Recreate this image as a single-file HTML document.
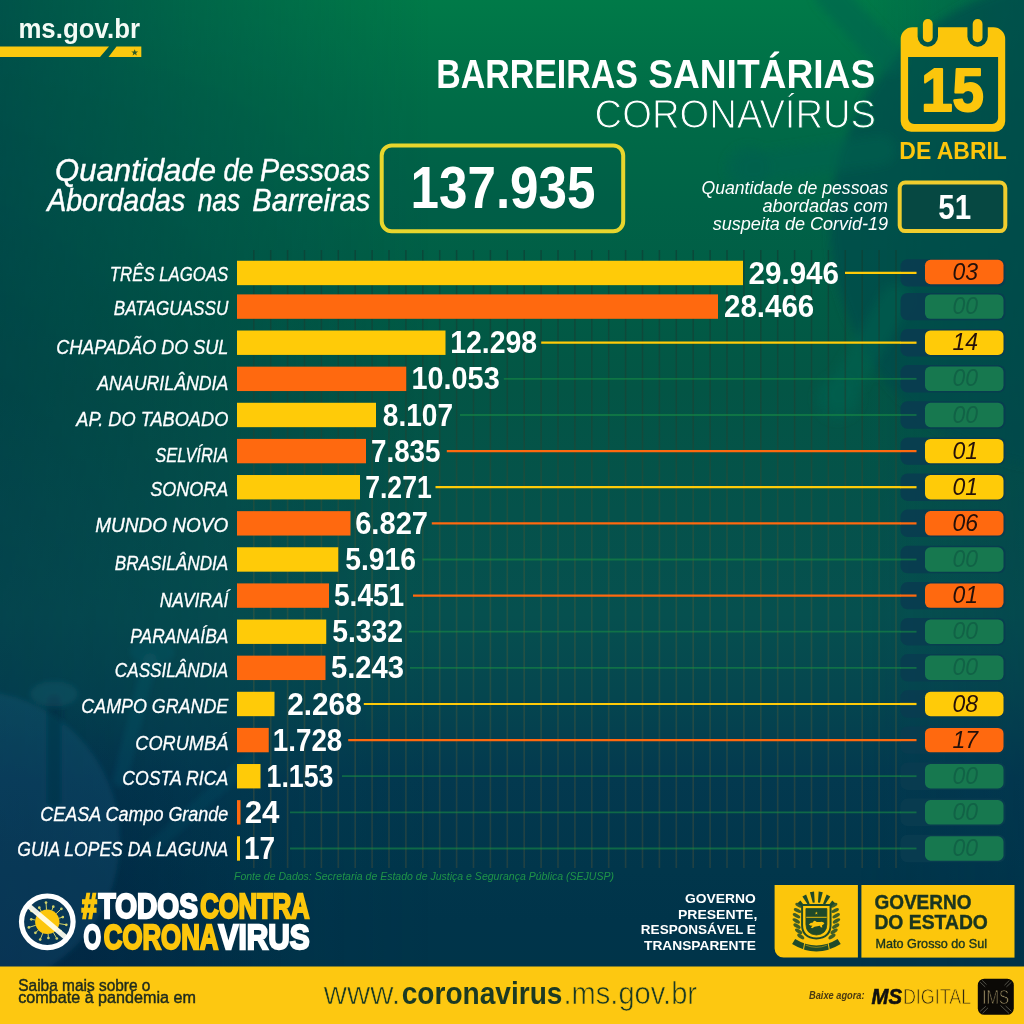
<!DOCTYPE html>
<html lang="pt-BR"><head><meta charset="utf-8"><title>Barreiras Sanitárias - Coronavírus</title>
<style>
html,body{margin:0;padding:0;background:#0c4a4c;}
body{width:1024px;height:1024px;overflow:hidden;}
svg{display:block}
text{font-family:"Liberation Sans",Arial,sans-serif;}
.b{font-weight:700}.i{font-style:italic}
</style></head><body>
<svg width="1024" height="1024" viewBox="0 0 1024 1024">
<defs>
<linearGradient id="bg" x1="0" y1="0" x2="0" y2="1">
<stop offset="0" stop-color="#007a48"/>
<stop offset="0.10" stop-color="#006c47"/>
<stop offset="0.20" stop-color="#006347"/>
<stop offset="0.30" stop-color="#015b45"/>
<stop offset="0.38" stop-color="#035545"/>
<stop offset="0.50" stop-color="#05524b"/>
<stop offset="0.60" stop-color="#06504f"/>
<stop offset="0.68" stop-color="#05464f"/>
<stop offset="0.76" stop-color="#03394f"/>
<stop offset="0.85" stop-color="#01364b"/>
<stop offset="0.90" stop-color="#00344a"/>
<stop offset="1" stop-color="#003448"/>
</linearGradient>
<linearGradient id="leftdark" x1="0" y1="0" x2="1" y2="0">
<stop offset="0" stop-color="#002d4b" stop-opacity="0.5"/>
<stop offset="0.2" stop-color="#002d4b" stop-opacity="0.24"/>
<stop offset="0.42" stop-color="#002d4b" stop-opacity="0"/>
<stop offset="0.84" stop-color="#002d4b" stop-opacity="0"/>
<stop offset="1" stop-color="#002d4b" stop-opacity="0.3"/>
</linearGradient>
<radialGradient id="bldark" cx="0" cy="990" r="300" gradientUnits="userSpaceOnUse">
<stop offset="0" stop-color="#021a3c" stop-opacity="0.5"/>
<stop offset="0.5" stop-color="#021a3c" stop-opacity="0.3"/>
<stop offset="1" stop-color="#021a3c" stop-opacity="0"/>
</radialGradient>
<linearGradient id="lfade" x1="0" y1="0" x2="0" y2="1">
<stop offset="0" stop-color="#fff"/><stop offset="0.6" stop-color="#aaa"/><stop offset="1" stop-color="#999"/>
</linearGradient>
<mask id="lmask"><rect width="1024" height="1024" fill="url(#lfade)"/></mask>
<filter id="blur6" x="-20%" y="-20%" width="140%" height="140%"><feGaussianBlur stdDeviation="5"/></filter>
<filter id="blur3" x="-20%" y="-20%" width="140%" height="140%"><feGaussianBlur stdDeviation="2.5"/></filter>
<linearGradient id="gridg" x1="0" y1="250" x2="0" y2="868" gradientUnits="userSpaceOnUse">
<stop offset="0" stop-color="#0e3f34" stop-opacity="0.7"/>
<stop offset="0.3" stop-color="#1c4435" stop-opacity="0.65"/>
<stop offset="0.55" stop-color="#4a5a38" stop-opacity="0.42"/>
<stop offset="1" stop-color="#6a5a30" stop-opacity="0.3"/>
</linearGradient>
</defs>
<rect width="1024" height="1024" fill="url(#bg)"/>
<rect width="1024" height="1024" fill="url(#leftdark)" mask="url(#lmask)"/>
<rect width="400" height="1024" fill="url(#bldark)"/>
<g filter="url(#blur6)">
<circle cx="1075" cy="225" r="245" fill="#03474a" fill-opacity="0.66"/>
<g stroke="#08604f" stroke-opacity="0.55" stroke-linecap="round" fill="none">
<line x1="880" y1="150" x2="752" y2="168" stroke-width="30"/>
<line x1="895" y1="300" x2="840" y2="395" stroke-width="30"/>
<line x1="890" y1="60" x2="830" y2="-5" stroke-width="30"/>
</g>
<circle cx="748" cy="168" r="22" fill="#08604f" fill-opacity="0.5"/>
<circle cx="838" cy="398" r="22" fill="#08604f" fill-opacity="0.5"/>
</g>
<g filter="url(#blur3)" stroke-linecap="round">
<circle cx="-30" cy="840" r="150" fill="#1c7098" fill-opacity="0.2"/>
<line x1="120" y1="780" x2="150" y2="660" stroke-width="14" stroke="#1c6f86" stroke-opacity="0.14"/>
<ellipse cx="152" cy="652" rx="22" ry="13" fill="#1c6f86" fill-opacity="0.14"/>
<line x1="150" y1="850" x2="250" y2="760" stroke-width="14" stroke="#1c6f86" stroke-opacity="0.12"/>
<line x1="54" y1="800" x2="54" y2="702" stroke-width="15" stroke="#052a3e" stroke-opacity="0.4"/>
<ellipse cx="54" cy="694" rx="24" ry="13" fill="#1c6f86" fill-opacity="0.22"/>
</g>

<g stroke="url(#gridg)" stroke-width="1.6">
<line x1="253.8" y1="250" x2="253.8" y2="868"/>
<line x1="270.7" y1="250" x2="270.7" y2="868"/>
<line x1="287.6" y1="250" x2="287.6" y2="868"/>
<line x1="304.5" y1="250" x2="304.5" y2="868"/>
<line x1="321.4" y1="250" x2="321.4" y2="868"/>
<line x1="338.3" y1="250" x2="338.3" y2="868"/>
<line x1="355.2" y1="250" x2="355.2" y2="868"/>
<line x1="372.1" y1="250" x2="372.1" y2="868"/>
<line x1="389.0" y1="250" x2="389.0" y2="868"/>
<line x1="405.9" y1="250" x2="405.9" y2="868"/>
<line x1="422.8" y1="250" x2="422.8" y2="868"/>
<line x1="439.7" y1="250" x2="439.7" y2="868"/>
<line x1="456.6" y1="250" x2="456.6" y2="868"/>
<line x1="473.5" y1="250" x2="473.5" y2="868"/>
<line x1="490.4" y1="250" x2="490.4" y2="868"/>
<line x1="507.3" y1="250" x2="507.3" y2="868"/>
<line x1="524.2" y1="250" x2="524.2" y2="868"/>
<line x1="541.1" y1="250" x2="541.1" y2="868"/>
<line x1="558.0" y1="250" x2="558.0" y2="868"/>
<line x1="574.9" y1="250" x2="574.9" y2="868"/>
<line x1="591.8" y1="250" x2="591.8" y2="868"/>
<line x1="608.7" y1="250" x2="608.7" y2="868"/>
<line x1="625.6" y1="250" x2="625.6" y2="868"/>
<line x1="642.5" y1="250" x2="642.5" y2="868"/>
<line x1="659.4" y1="250" x2="659.4" y2="868"/>
<line x1="676.3" y1="250" x2="676.3" y2="868"/>
<line x1="693.2" y1="250" x2="693.2" y2="868"/>
<line x1="710.1" y1="250" x2="710.1" y2="868"/>
<line x1="727.0" y1="250" x2="727.0" y2="868"/>
<line x1="743.9" y1="250" x2="743.9" y2="868"/>
<line x1="760.8" y1="250" x2="760.8" y2="868"/>
<line x1="777.7" y1="250" x2="777.7" y2="868"/>
<line x1="794.6" y1="250" x2="794.6" y2="868"/>
<line x1="811.5" y1="250" x2="811.5" y2="868"/>
<line x1="828.4" y1="250" x2="828.4" y2="868"/>
<line x1="845.3" y1="250" x2="845.3" y2="868"/>
<line x1="862.2" y1="250" x2="862.2" y2="868"/>
<line x1="879.1" y1="250" x2="879.1" y2="868"/>
<line x1="896.0" y1="250" x2="896.0" y2="868"/>
</g>
<line x1="845.0" y1="272.9" x2="916.5" y2="272.9" stroke="#ffcb08" stroke-width="2.2"/>
<rect x="900.5" y="259.2" width="105" height="27.4" rx="7" fill="#093c50" fill-opacity="0.9"/>
<line x1="900" y1="272.9" x2="916.5" y2="272.9" stroke="#ffcb08" stroke-width="2.2"/>
<rect x="925" y="259.8" width="78.5" height="24.4" rx="5.5" fill="#ff690f"/>
<text class="i" x="965.3" y="280.4" font-size="23" text-anchor="middle" fill="#24100a">03</text>
<rect x="237" y="260.75" width="506.00" height="24.4" fill="#ffcb08"/>
<text class="i" stroke="#fff" stroke-width="0.3" x="109.8" y="280.9" font-size="19.6" fill="#fff" textLength="118.5" lengthAdjust="spacingAndGlyphs">TRÊS LAGOAS</text>
<text class="b" x="748.5" y="283.6" font-size="31.2" fill="#fff" textLength="90.5" lengthAdjust="spacingAndGlyphs">29.946</text>
<rect x="900.5" y="292.9" width="105" height="27.4" rx="7" fill="#093c50" fill-opacity="0.9"/>
<rect x="925" y="294.4" width="78.5" height="24.4" rx="5.5" fill="#17784f"/>
<text class="i" x="965.3" y="314.1" font-size="23" text-anchor="middle" fill="#116246">00</text>
<rect x="237" y="294.40" width="481.00" height="24.4" fill="#ff690f"/>
<text class="i" stroke="#fff" stroke-width="0.3" x="113.8" y="315.0" font-size="19.6" fill="#fff" textLength="114.5" lengthAdjust="spacingAndGlyphs">BATAGUASSU</text>
<text class="b" x="724.0" y="317.2" font-size="31.2" fill="#fff" textLength="90.2" lengthAdjust="spacingAndGlyphs">28.466</text>
<line x1="541.2" y1="342.7" x2="916.5" y2="342.7" stroke="#ffcb08" stroke-width="2.2"/>
<rect x="900.5" y="329.0" width="105" height="27.4" rx="7" fill="#093c50" fill-opacity="0.9"/>
<line x1="900" y1="342.7" x2="916.5" y2="342.7" stroke="#ffcb08" stroke-width="2.2"/>
<rect x="925" y="330.5" width="78.5" height="24.4" rx="5.5" fill="#ffcb08"/>
<text class="i" x="965.3" y="350.2" font-size="23" text-anchor="middle" fill="#24100a">14</text>
<rect x="237" y="330.52" width="208.50" height="24.4" fill="#ffcb08"/>
<text class="i" stroke="#fff" stroke-width="0.3" x="56.3" y="353.7" font-size="19.6" fill="#fff" textLength="172.0" lengthAdjust="spacingAndGlyphs">CHAPADÃO DO SUL</text>
<text class="b" x="450.2" y="353.3" font-size="31.2" fill="#fff" textLength="87.0" lengthAdjust="spacingAndGlyphs">12.298</text>
<line x1="503.8" y1="378.8" x2="916.5" y2="378.8" stroke="#178a45" stroke-width="1.8" stroke-opacity="0.6"/>
<rect x="900.5" y="365.1" width="105" height="27.4" rx="7" fill="#093c50" fill-opacity="0.9"/>
<line x1="900" y1="378.8" x2="916.5" y2="378.8" stroke="#178a45" stroke-width="1.8" stroke-opacity="0.6"/>
<rect x="925" y="366.6" width="78.5" height="24.4" rx="5.5" fill="#17784f"/>
<text class="i" x="965.3" y="386.3" font-size="23" text-anchor="middle" fill="#116246">00</text>
<rect x="237" y="366.65" width="169.25" height="24.4" fill="#ff690f"/>
<text class="i" stroke="#fff" stroke-width="0.3" x="97.3" y="390.0" font-size="19.6" fill="#fff" textLength="131.0" lengthAdjust="spacingAndGlyphs">ANAURILÂNDIA</text>
<text class="b" x="411.5" y="389.4" font-size="31.2" fill="#fff" textLength="88.2" lengthAdjust="spacingAndGlyphs">10.053</text>
<line x1="460.0" y1="415.0" x2="916.5" y2="415.0" stroke="#178a45" stroke-width="1.8" stroke-opacity="0.6"/>
<rect x="900.5" y="401.3" width="105" height="27.4" rx="7" fill="#093c50" fill-opacity="0.9"/>
<line x1="900" y1="415.0" x2="916.5" y2="415.0" stroke="#178a45" stroke-width="1.8" stroke-opacity="0.6"/>
<rect x="925" y="402.8" width="78.5" height="24.4" rx="5.5" fill="#17784f"/>
<text class="i" x="965.3" y="422.5" font-size="23" text-anchor="middle" fill="#116246">00</text>
<rect x="237" y="402.77" width="139.00" height="24.4" fill="#ffcb08"/>
<text class="i" stroke="#fff" stroke-width="0.3" x="76.3" y="425.8" font-size="19.6" fill="#fff" textLength="152.0" lengthAdjust="spacingAndGlyphs">AP. DO TABOADO</text>
<text class="b" x="382.8" y="425.6" font-size="31.2" fill="#fff" textLength="70.2" lengthAdjust="spacingAndGlyphs">8.107</text>
<line x1="446.8" y1="451.1" x2="916.5" y2="451.1" stroke="#ff690f" stroke-width="2.2"/>
<rect x="900.5" y="437.4" width="105" height="27.4" rx="7" fill="#093c50" fill-opacity="0.9"/>
<line x1="900" y1="451.1" x2="916.5" y2="451.1" stroke="#ff690f" stroke-width="2.2"/>
<rect x="925" y="438.9" width="78.5" height="24.4" rx="5.5" fill="#ffcb08"/>
<text class="i" x="965.3" y="458.6" font-size="23" text-anchor="middle" fill="#24100a">01</text>
<rect x="237" y="438.90" width="129.00" height="24.4" fill="#ff690f"/>
<text class="i" stroke="#fff" stroke-width="0.3" x="155.3" y="462.0" font-size="19.6" fill="#fff" textLength="73.0" lengthAdjust="spacingAndGlyphs">SELVÍRIA</text>
<text class="b" x="371.0" y="461.7" font-size="31.2" fill="#fff" textLength="69.5" lengthAdjust="spacingAndGlyphs">7.835</text>
<line x1="435.5" y1="487.2" x2="916.5" y2="487.2" stroke="#ffcb08" stroke-width="2.2"/>
<rect x="900.5" y="473.5" width="105" height="27.4" rx="7" fill="#093c50" fill-opacity="0.9"/>
<line x1="900" y1="487.2" x2="916.5" y2="487.2" stroke="#ffcb08" stroke-width="2.2"/>
<rect x="925" y="475.0" width="78.5" height="24.4" rx="5.5" fill="#ffcb08"/>
<text class="i" x="965.3" y="494.7" font-size="23" text-anchor="middle" fill="#24100a">01</text>
<rect x="237" y="475.02" width="123.00" height="24.4" fill="#ffcb08"/>
<text class="i" stroke="#fff" stroke-width="0.3" x="150.3" y="495.8" font-size="19.6" fill="#fff" textLength="78.0" lengthAdjust="spacingAndGlyphs">SONORA</text>
<text class="b" x="365.2" y="497.8" font-size="31.2" fill="#fff" textLength="66.5" lengthAdjust="spacingAndGlyphs">7.271</text>
<line x1="431.8" y1="523.4" x2="916.5" y2="523.4" stroke="#ff690f" stroke-width="2.2"/>
<rect x="900.5" y="509.6" width="105" height="27.4" rx="7" fill="#093c50" fill-opacity="0.9"/>
<line x1="900" y1="523.4" x2="916.5" y2="523.4" stroke="#ff690f" stroke-width="2.2"/>
<rect x="925" y="511.1" width="78.5" height="24.4" rx="5.5" fill="#ff690f"/>
<text class="i" x="965.3" y="530.9" font-size="23" text-anchor="middle" fill="#24100a">06</text>
<rect x="237" y="511.15" width="113.50" height="24.4" fill="#ff690f"/>
<text class="i" stroke="#fff" stroke-width="0.3" x="95.3" y="531.5" font-size="19.6" fill="#fff" textLength="133.0" lengthAdjust="spacingAndGlyphs">MUNDO NOVO</text>
<text class="b" x="355.2" y="533.9" font-size="31.2" fill="#fff" textLength="72.8" lengthAdjust="spacingAndGlyphs">6.827</text>
<line x1="422.5" y1="559.5" x2="916.5" y2="559.5" stroke="#178a45" stroke-width="1.8" stroke-opacity="0.6"/>
<rect x="900.5" y="545.8" width="105" height="27.4" rx="7" fill="#093c50" fill-opacity="0.9"/>
<line x1="900" y1="559.5" x2="916.5" y2="559.5" stroke="#178a45" stroke-width="1.8" stroke-opacity="0.6"/>
<rect x="925" y="547.3" width="78.5" height="24.4" rx="5.5" fill="#17784f"/>
<text class="i" x="965.3" y="567.0" font-size="23" text-anchor="middle" fill="#116246">00</text>
<rect x="237" y="547.27" width="101.25" height="24.4" fill="#ffcb08"/>
<text class="i" stroke="#fff" stroke-width="0.3" x="114.8" y="570.3" font-size="19.6" fill="#fff" textLength="113.5" lengthAdjust="spacingAndGlyphs">BRASILÂNDIA</text>
<text class="b" x="345.2" y="570.1" font-size="31.2" fill="#fff" textLength="70.8" lengthAdjust="spacingAndGlyphs">5.916</text>
<line x1="413.0" y1="595.6" x2="916.5" y2="595.6" stroke="#ff690f" stroke-width="2.2"/>
<rect x="900.5" y="581.9" width="105" height="27.4" rx="7" fill="#093c50" fill-opacity="0.9"/>
<line x1="900" y1="595.6" x2="916.5" y2="595.6" stroke="#ff690f" stroke-width="2.2"/>
<rect x="925" y="583.4" width="78.5" height="24.4" rx="5.5" fill="#ff690f"/>
<text class="i" x="965.3" y="603.1" font-size="23" text-anchor="middle" fill="#24100a">01</text>
<rect x="237" y="583.40" width="92.00" height="24.4" fill="#ff690f"/>
<text class="i" stroke="#fff" stroke-width="0.3" x="159.8" y="606.9" font-size="19.6" fill="#fff" textLength="68.5" lengthAdjust="spacingAndGlyphs">NAVIRAÍ</text>
<text class="b" x="334.0" y="606.2" font-size="31.2" fill="#fff" textLength="70.2" lengthAdjust="spacingAndGlyphs">5.451</text>
<line x1="408.8" y1="631.7" x2="916.5" y2="631.7" stroke="#178a45" stroke-width="1.8" stroke-opacity="0.6"/>
<rect x="900.5" y="618.0" width="105" height="27.4" rx="7" fill="#093c50" fill-opacity="0.9"/>
<line x1="900" y1="631.7" x2="916.5" y2="631.7" stroke="#178a45" stroke-width="1.8" stroke-opacity="0.6"/>
<rect x="925" y="619.5" width="78.5" height="24.4" rx="5.5" fill="#17784f"/>
<text class="i" x="965.3" y="639.2" font-size="23" text-anchor="middle" fill="#116246">00</text>
<rect x="237" y="619.52" width="89.25" height="24.4" fill="#ffcb08"/>
<text class="i" stroke="#fff" stroke-width="0.3" x="130.3" y="642.5" font-size="19.6" fill="#fff" textLength="98.0" lengthAdjust="spacingAndGlyphs">PARANAÍBA</text>
<text class="b" x="332.2" y="642.3" font-size="31.2" fill="#fff" textLength="70.8" lengthAdjust="spacingAndGlyphs">5.332</text>
<line x1="410.0" y1="667.9" x2="916.5" y2="667.9" stroke="#178a45" stroke-width="1.8" stroke-opacity="0.6"/>
<rect x="900.5" y="654.1" width="105" height="27.4" rx="7" fill="#093c50" fill-opacity="0.9"/>
<line x1="900" y1="667.9" x2="916.5" y2="667.9" stroke="#178a45" stroke-width="1.8" stroke-opacity="0.6"/>
<rect x="925" y="655.6" width="78.5" height="24.4" rx="5.5" fill="#17784f"/>
<text class="i" x="965.3" y="675.4" font-size="23" text-anchor="middle" fill="#116246">00</text>
<rect x="237" y="655.65" width="88.50" height="24.4" fill="#ff690f"/>
<text class="i" stroke="#fff" stroke-width="0.3" x="114.8" y="677.3" font-size="19.6" fill="#fff" textLength="113.5" lengthAdjust="spacingAndGlyphs">CASSILÂNDIA</text>
<text class="b" x="331.0" y="678.4" font-size="31.2" fill="#fff" textLength="73.0" lengthAdjust="spacingAndGlyphs">5.243</text>
<line x1="363.8" y1="704.0" x2="916.5" y2="704.0" stroke="#ffcb08" stroke-width="2.2"/>
<rect x="900.5" y="690.3" width="105" height="27.4" rx="7" fill="#093c50" fill-opacity="0.9"/>
<line x1="900" y1="704.0" x2="916.5" y2="704.0" stroke="#ffcb08" stroke-width="2.2"/>
<rect x="925" y="691.8" width="78.5" height="24.4" rx="5.5" fill="#ffcb08"/>
<text class="i" x="965.3" y="711.5" font-size="23" text-anchor="middle" fill="#24100a">08</text>
<rect x="237" y="691.77" width="37.50" height="24.4" fill="#ffcb08"/>
<text class="i" stroke="#fff" stroke-width="0.3" x="81.3" y="713.0" font-size="19.6" fill="#fff" textLength="147.0" lengthAdjust="spacingAndGlyphs">CAMPO GRANDE</text>
<text class="b" x="287.2" y="714.6" font-size="31.2" fill="#fff" textLength="74.5" lengthAdjust="spacingAndGlyphs">2.268</text>
<line x1="348.2" y1="740.1" x2="916.5" y2="740.1" stroke="#ff690f" stroke-width="2.2"/>
<rect x="900.5" y="726.4" width="105" height="27.4" rx="7" fill="#093c50" fill-opacity="0.9"/>
<line x1="900" y1="740.1" x2="916.5" y2="740.1" stroke="#ff690f" stroke-width="2.2"/>
<rect x="925" y="727.9" width="78.5" height="24.4" rx="5.5" fill="#ff690f"/>
<text class="i" x="965.3" y="747.6" font-size="23" text-anchor="middle" fill="#24100a">17</text>
<rect x="237" y="727.90" width="31.75" height="24.4" fill="#ff690f"/>
<text class="i" stroke="#fff" stroke-width="0.3" x="135.3" y="750.2" font-size="19.6" fill="#fff" textLength="93.0" lengthAdjust="spacingAndGlyphs">CORUMBÁ</text>
<text class="b" x="272.8" y="750.7" font-size="31.2" fill="#fff" textLength="69.5" lengthAdjust="spacingAndGlyphs">1.728</text>
<line x1="342.0" y1="776.2" x2="916.5" y2="776.2" stroke="#178a45" stroke-width="1.8" stroke-opacity="0.6"/>
<rect x="900.5" y="762.5" width="105" height="27.4" rx="7" fill="#093c50" fill-opacity="0.9"/>
<line x1="900" y1="776.2" x2="916.5" y2="776.2" stroke="#178a45" stroke-width="1.8" stroke-opacity="0.6"/>
<rect x="925" y="764.0" width="78.5" height="24.4" rx="5.5" fill="#17784f"/>
<text class="i" x="965.3" y="783.7" font-size="23" text-anchor="middle" fill="#116246">00</text>
<rect x="237" y="764.02" width="23.50" height="24.4" fill="#ffcb08"/>
<text class="i" stroke="#fff" stroke-width="0.3" x="122.3" y="784.8" font-size="19.6" fill="#fff" textLength="106.0" lengthAdjust="spacingAndGlyphs">COSTA RICA</text>
<text class="b" x="266.5" y="786.8" font-size="31.2" fill="#fff" textLength="67.0" lengthAdjust="spacingAndGlyphs">1.153</text>
<line x1="290.0" y1="812.4" x2="916.5" y2="812.4" stroke="#178a45" stroke-width="1.8" stroke-opacity="0.6"/>
<rect x="900.5" y="798.6" width="105" height="27.4" rx="7" fill="#093c50" fill-opacity="0.9"/>
<line x1="900" y1="812.4" x2="916.5" y2="812.4" stroke="#178a45" stroke-width="1.8" stroke-opacity="0.6"/>
<rect x="925" y="800.1" width="78.5" height="24.4" rx="5.5" fill="#17784f"/>
<text class="i" x="965.3" y="819.9" font-size="23" text-anchor="middle" fill="#116246">00</text>
<rect x="237" y="800.15" width="3.50" height="24.4" fill="#ff690f"/>
<text class="i" stroke="#fff" stroke-width="0.3" x="40.3" y="820.6" font-size="19.6" fill="#fff" textLength="188.0" lengthAdjust="spacingAndGlyphs">CEASA Campo Grande</text>
<text class="b" x="244.7" y="822.9" font-size="31.2" fill="#fff" textLength="34.8" lengthAdjust="spacingAndGlyphs">24</text>
<line x1="290.0" y1="848.5" x2="916.5" y2="848.5" stroke="#178a45" stroke-width="1.8" stroke-opacity="0.6"/>
<rect x="900.5" y="834.8" width="105" height="27.4" rx="7" fill="#093c50" fill-opacity="0.9"/>
<line x1="900" y1="848.5" x2="916.5" y2="848.5" stroke="#178a45" stroke-width="1.8" stroke-opacity="0.6"/>
<rect x="925" y="836.3" width="78.5" height="24.4" rx="5.5" fill="#17784f"/>
<text class="i" x="965.3" y="856.0" font-size="23" text-anchor="middle" fill="#116246">00</text>
<rect x="237" y="836.27" width="3.00" height="24.4" fill="#ffcb08"/>
<text class="i" stroke="#fff" stroke-width="0.3" x="17.3" y="856.2" font-size="19.6" fill="#fff" textLength="211.0" lengthAdjust="spacingAndGlyphs">GUIA LOPES DA LAGUNA</text>
<text class="b" x="243.9" y="859.1" font-size="31.2" fill="#fff" textLength="31.2" lengthAdjust="spacingAndGlyphs">17</text>
<text x="18.4" y="38.3" font-size="27.5" fill="#f4fbf6" textLength="121.6" lengthAdjust="spacingAndGlyphs" class="b" >ms.gov.br</text>
<polygon points="0,46.5 109,46.5 100,57 0,57" fill="#fbc90f"/>
<polygon points="116.5,46.5 141.3,46.5 141.3,57 108.5,57" fill="#fbc90f"/>
<polygon points="134.7,49.2 135.6,51.5 138.1,51.6 136.1,53.1 136.8,55.5 134.7,54.1 132.6,55.5 133.3,53.1 131.3,51.6 133.8,51.5" fill="#2b5a2a"/>
<text x="436.3" y="88.3" font-size="41.4" fill="#fff" textLength="201.5" lengthAdjust="spacingAndGlyphs" class="b" >BARREIRAS</text>
<text x="648.2" y="88.3" font-size="41.4" fill="#fff" textLength="227.0" lengthAdjust="spacingAndGlyphs" class="b" >SANITÁRIAS</text>
<text x="594.6" y="128.3" font-size="40.5" fill="#fff" textLength="281.5" lengthAdjust="spacingAndGlyphs" stroke="#006a47" stroke-width="1.1">CORONAVÍRUS</text>
<rect x="381.7" y="145.4" width="241.5" height="85.9" rx="10" fill="#003c50" fill-opacity="0.1" stroke="#e8d62d" stroke-width="4"/>
<text x="410.5" y="208.3" font-size="60" fill="#fff" textLength="185.0" lengthAdjust="spacingAndGlyphs" class="b" >137.935</text>
<text x="55.0" y="181.0" font-size="32" fill="#fff" textLength="161.0" lengthAdjust="spacingAndGlyphs" class="i" stroke="#fff" stroke-width="0.45">Quantidade</text>
<text x="223.5" y="181.0" font-size="32" fill="#fff" textLength="30.0" lengthAdjust="spacingAndGlyphs" class="i" stroke="#fff" stroke-width="0.45">de</text>
<text x="260.0" y="181.0" font-size="32" fill="#fff" textLength="110.0" lengthAdjust="spacingAndGlyphs" class="i" stroke="#fff" stroke-width="0.45">Pessoas</text>
<text x="47.2" y="210.6" font-size="32" fill="#fff" textLength="138.0" lengthAdjust="spacingAndGlyphs" class="i" stroke="#fff" stroke-width="0.45">Abordadas</text>
<text x="197.7" y="210.6" font-size="32" fill="#fff" textLength="42.5" lengthAdjust="spacingAndGlyphs" class="i" stroke="#fff" stroke-width="0.45">nas</text>
<text x="252.3" y="210.6" font-size="32" fill="#fff" textLength="118.0" lengthAdjust="spacingAndGlyphs" class="i" stroke="#fff" stroke-width="0.45">Barreiras</text>
<rect x="899.7" y="182.6" width="105.6" height="48.5" rx="5.5" fill="#064842" stroke="#f0cd2e" stroke-width="4"/>
<text x="938.3" y="218.7" font-size="35.6" fill="#fff" textLength="32.8" lengthAdjust="spacingAndGlyphs" class="b" >51</text>
<text x="701.4" y="193.6" font-size="18" fill="#fff" textLength="186.6" lengthAdjust="spacingAndGlyphs" class="i" >Quantidade de pessoas</text>
<text x="762.4" y="212.2" font-size="18" fill="#fff" textLength="125.6" lengthAdjust="spacingAndGlyphs" class="i" >abordadas com</text>
<text x="712.8" y="230.0" font-size="18" fill="#fff" textLength="175.2" lengthAdjust="spacingAndGlyphs" class="i" >suspeita de Corvid-19</text>
<mask id="calm"><rect x="890" y="10" width="130" height="130" fill="#000"/>
<path fill="#fff" fill-rule="evenodd" d="M912.5,27.2 H993.4 A11.8,11.8 0 0 1 1005.2,39 V121.3 A10.5,10.5 0 0 1 994.7,131.8 H911.2 A10.5,10.5 0 0 1 900.7,121.3 V39 A11.8,11.8 0 0 1 912.5,27.2 Z M908.1,57.1 V117.9 A6,6 0 0 0 914.1,123.9 H992.1 A6,6 0 0 0 998.1,117.9 V57.1 Z"/>
<rect x="917.6" y="10" width="20.4" height="36.8" rx="10.2" fill="#000"/>
<rect x="967.4" y="10" width="20.4" height="36.8" rx="10.2" fill="#000"/>
</mask>
<rect x="890" y="10" width="130" height="130" fill="#fcc60c" mask="url(#calm)"/>
<rect x="922.9" y="19" width="9.8" height="23.2" rx="4.9" fill="#fcc60c"/>
<rect x="972.7" y="19" width="9.8" height="23.2" rx="4.9" fill="#fcc60c"/>
<text x="921.2" y="111.2" font-size="62" fill="#fcc60c" textLength="62.5" lengthAdjust="spacingAndGlyphs" class="b" stroke="#fcc60c" stroke-width="2.2" stroke-linejoin="round">15</text>
<text x="899.3" y="159.0" font-size="24.7" fill="#fcc60c" textLength="107.6" lengthAdjust="spacingAndGlyphs" class="b" >DE ABRIL</text>
<text x="234.0" y="879.5" font-size="11" fill="#1f9448" textLength="380.0" lengthAdjust="spacingAndGlyphs" class="i" >Fonte de Dados: Secretaria de Estado de Justiça e Segurança Pública (SEJUSP)</text>
<circle cx="47.3" cy="921.8" r="12.2" fill="#fcc60c"/>
<g fill="#cfd06a" stroke="#cfd06a">
<line x1="46.5" y1="909.8" x2="46.0" y2="902.6" stroke-width="1"/>
<circle cx="46.0" cy="902.6" r="1.35" stroke="none"/>
<line x1="51.7" y1="910.7" x2="53.3" y2="906.7" stroke-width="1"/>
<circle cx="53.3" cy="906.7" r="1.35" stroke="none"/>
<line x1="56.1" y1="913.7" x2="61.4" y2="908.8" stroke-width="1"/>
<circle cx="61.4" cy="908.8" r="1.35" stroke="none"/>
<line x1="58.8" y1="918.3" x2="62.8" y2="917.1" stroke-width="1"/>
<circle cx="62.8" cy="917.1" r="1.35" stroke="none"/>
<line x1="59.2" y1="923.6" x2="66.3" y2="924.8" stroke-width="1"/>
<circle cx="66.3" cy="924.8" r="1.35" stroke="none"/>
<line x1="57.2" y1="928.6" x2="60.6" y2="931.0" stroke-width="1"/>
<circle cx="60.6" cy="931.0" r="1.35" stroke="none"/>
<line x1="53.2" y1="932.2" x2="56.8" y2="938.5" stroke-width="1"/>
<circle cx="56.8" cy="938.5" r="1.35" stroke="none"/>
<line x1="48.1" y1="933.8" x2="48.4" y2="938.0" stroke-width="1"/>
<circle cx="48.4" cy="938.0" r="1.35" stroke="none"/>
<line x1="42.9" y1="932.9" x2="40.2" y2="939.6" stroke-width="1"/>
<circle cx="40.2" cy="939.6" r="1.35" stroke="none"/>
<line x1="38.5" y1="929.9" x2="35.4" y2="932.8" stroke-width="1"/>
<circle cx="35.4" cy="932.8" r="1.35" stroke="none"/>
<line x1="35.8" y1="925.3" x2="28.9" y2="927.4" stroke-width="1"/>
<circle cx="28.9" cy="927.4" r="1.35" stroke="none"/>
<line x1="35.4" y1="920.0" x2="31.3" y2="919.3" stroke-width="1"/>
<circle cx="31.3" cy="919.3" r="1.35" stroke="none"/>
<line x1="37.4" y1="915.0" x2="31.5" y2="910.9" stroke-width="1"/>
<circle cx="31.5" cy="910.9" r="1.35" stroke="none"/>
<line x1="41.4" y1="911.4" x2="39.3" y2="907.7" stroke-width="1"/>
<circle cx="39.3" cy="907.7" r="1.35" stroke="none"/>
</g>
<line x1="27.6" y1="905.1" x2="67.0" y2="938.5" stroke="#fffef0" stroke-opacity="0.93" stroke-width="5.2"/>
<circle cx="47.3" cy="921.8" r="25.8" fill="none" stroke="#fff" stroke-width="5.2"/>
<text x="81.8" y="917.8" font-size="34.5" fill="#fcc60c" textLength="15.0" lengthAdjust="spacingAndGlyphs" class="b" stroke="#fcc60c" stroke-width="2.3" stroke-linejoin="miter">#</text>
<text x="98.6" y="917.8" font-size="34.5" fill="#fff" textLength="99.3" lengthAdjust="spacingAndGlyphs" class="b" stroke="#fff" stroke-width="2.3" stroke-linejoin="miter">TODOS</text>
<text x="200.2" y="917.8" font-size="34.5" fill="#fcc60c" textLength="109.4" lengthAdjust="spacingAndGlyphs" class="b" stroke="#fcc60c" stroke-width="2.3" stroke-linejoin="miter">CONTRA</text>
<text x="83.6" y="949.2" font-size="35.8" fill="#fff" textLength="17.6" lengthAdjust="spacingAndGlyphs" class="b" stroke="#fff" stroke-width="2.3" stroke-linejoin="miter">O</text>
<text x="103.8" y="949.2" font-size="35.8" fill="#fcc60c" textLength="114.6" lengthAdjust="spacingAndGlyphs" class="b" stroke="#fcc60c" stroke-width="2.3" stroke-linejoin="miter">CORONA</text>
<text x="218.6" y="949.2" font-size="35.8" fill="#fff" textLength="91.0" lengthAdjust="spacingAndGlyphs" class="b" stroke="#fff" stroke-width="2.3" stroke-linejoin="miter">VIRUS</text>
<text x="685.0" y="902.8" font-size="13" fill="#fff" textLength="70.8" lengthAdjust="spacingAndGlyphs" class="b" >GOVERNO</text>
<text x="678.0" y="918.5" font-size="13" fill="#fff" textLength="79.3" lengthAdjust="spacingAndGlyphs" class="b" >PRESENTE,</text>
<text x="640.8" y="934.2" font-size="13" fill="#fff" textLength="115.0" lengthAdjust="spacingAndGlyphs" class="b" >RESPONSÁVEL E</text>
<text x="644.0" y="949.9" font-size="13" fill="#fff" textLength="112.0" lengthAdjust="spacingAndGlyphs" class="b" >TRANSPARENTE</text>
<path d="M774.6,885 H857.9 V957.6 H783.6 A9,9 0 0 1 774.6,948.6 Z" fill="#fcc60c"/>
<rect x="861.4" y="885" width="153.1" height="72.6" fill="#fcc60c"/>
<g transform="translate(776,884) scale(0.08203)">
<polygon points="356,277 298,200 262,236 339,294" fill="#1f4a2a"/>
<polygon points="410,242 367,129 322,152 388,253" fill="#1f4a2a"/>
<polygon points="472,226 464,92 414,100 448,229" fill="#1f4a2a"/>
<polygon points="536,229 570,100 520,92 512,226" fill="#1f4a2a"/>
<polygon points="596,253 662,152 617,129 574,242" fill="#1f4a2a"/>
<polygon points="645,294 722,236 686,200 628,277" fill="#1f4a2a"/>
<ellipse cx="302" cy="640" rx="50" ry="22" fill="#1f4a2a" fill-opacity="0.85" transform="rotate(35 302 640)"/>
<ellipse cx="276" cy="577" rx="50" ry="22" fill="#1f4a2a" fill-opacity="0.85" transform="rotate(33 276 577)"/>
<ellipse cx="256" cy="513" rx="50" ry="22" fill="#1f4a2a" fill-opacity="0.85" transform="rotate(32 256 513)"/>
<ellipse cx="247" cy="450" rx="50" ry="22" fill="#1f4a2a" fill-opacity="0.85" transform="rotate(30 247 450)"/>
<ellipse cx="250" cy="387" rx="50" ry="22" fill="#1f4a2a" fill-opacity="0.85" transform="rotate(28 250 387)"/>
<ellipse cx="263" cy="323" rx="50" ry="22" fill="#1f4a2a" fill-opacity="0.85" transform="rotate(27 263 323)"/>
<ellipse cx="282" cy="260" rx="50" ry="22" fill="#1f4a2a" fill-opacity="0.85" transform="rotate(25 282 260)"/>
<ellipse cx="682" cy="640" rx="50" ry="22" fill="#1f4a2a" fill-opacity="0.85" transform="rotate(-35 682 640)"/>
<ellipse cx="708" cy="577" rx="50" ry="22" fill="#1f4a2a" fill-opacity="0.85" transform="rotate(-33 708 577)"/>
<ellipse cx="728" cy="513" rx="50" ry="22" fill="#1f4a2a" fill-opacity="0.85" transform="rotate(-32 728 513)"/>
<ellipse cx="737" cy="450" rx="50" ry="22" fill="#1f4a2a" fill-opacity="0.85" transform="rotate(-30 737 450)"/>
<ellipse cx="734" cy="387" rx="50" ry="22" fill="#1f4a2a" fill-opacity="0.85" transform="rotate(-28 734 387)"/>
<ellipse cx="721" cy="323" rx="50" ry="22" fill="#1f4a2a" fill-opacity="0.85" transform="rotate(-27 721 323)"/>
<ellipse cx="702" cy="260" rx="50" ry="22" fill="#1f4a2a" fill-opacity="0.85" transform="rotate(-25 702 260)"/>
<path d="M215,700 Q492,870 770,700" fill="none" stroke="#1f4a2a" stroke-width="72"/>
<path d="M360,745 Q492,800 625,745" fill="none" stroke="#fcc60c" stroke-width="10" stroke-opacity="0.55"/>
<path d="M355,690 L335,800 M630,690 L650,800" stroke="#fcc60c" stroke-width="12" fill="none"/>
<path d="M318,255 H665 V500 Q665,655 492,665 Q318,655 318,500 Z" fill="#fcc60c" stroke="#1f4a2a" stroke-width="24"/>
<path d="M365,300 H620 V490 Q620,612 492,622 Q365,612 365,490 Z" fill="#1f4a2a" stroke="#1f4a2a" stroke-width="10"/>
<path d="M350,283 H636 V495 Q636,628 492,640 Q350,628 350,495 Z" fill="none" stroke="#fcc60c" stroke-width="9" stroke-opacity="0.0"/>
<rect x="368" y="400" width="250" height="11" fill="#fcc60c"/>
<polygon points="492,336 497,349 511,349 500,358 504,371 492,363 480,371 484,358 473,349 487,349" fill="#fcc60c"/>
<path d="M400,495 Q420,470 450,470 Q455,445 480,450 Q500,470 540,462 Q575,455 590,480 Q580,500 560,505 L565,530 L545,528 L535,508 L470,520 L440,540 L425,530 L445,510 Q415,510 400,495 Z" fill="#fcc60c"/>
</g>
<text x="874.4" y="909.3" font-size="19.5" fill="#1a3520" textLength="97.0" lengthAdjust="spacingAndGlyphs" class="b" stroke="#1a3520" stroke-width="0.4">GOVERNO</text>
<text x="874.4" y="929.3" font-size="19.5" fill="#1a3520" textLength="113.5" lengthAdjust="spacingAndGlyphs" class="b" stroke="#1a3520" stroke-width="0.4">DO ESTADO</text>
<text x="875.6" y="947.6" font-size="13" fill="#1a3520" textLength="111.4" lengthAdjust="spacingAndGlyphs" stroke="#1a3520" stroke-width="0.4">Mato Grosso do Sul</text>
<rect x="0" y="966.5" width="1024" height="58" fill="#fdc811"/>
<text x="18.3" y="991.2" font-size="16.3" fill="#1d2a1e" textLength="132.1" lengthAdjust="spacingAndGlyphs" stroke="#1d2a1e" stroke-width="0.45">Saiba mais sobre o</text>
<text x="18.3" y="1002.8" font-size="16.3" fill="#1d2a1e" textLength="177.6" lengthAdjust="spacingAndGlyphs" stroke="#1d2a1e" stroke-width="0.45">combate à pandemia em</text>
<text x="323.8" y="1003.9" font-size="31" fill="#1c3a24" textLength="76.7" lengthAdjust="spacingAndGlyphs" stroke="#fdc811" stroke-width="0.6">www.</text>
<text x="401.7" y="1003.9" font-size="31" fill="#1c3a24" textLength="160.8" lengthAdjust="spacingAndGlyphs" class="b" >coronavirus</text>
<text x="563.5" y="1003.9" font-size="31" fill="#1c3a24" textLength="133.5" lengthAdjust="spacingAndGlyphs" stroke="#fdc811" stroke-width="0.6">.ms.gov.br</text>
<text x="809.0" y="999.3" font-size="11.5" fill="#4a3a10" textLength="55.6" lengthAdjust="spacingAndGlyphs" class="b i" >Baixe agora:</text>
<text x="871.5" y="1004.4" font-size="22.5" fill="#111" textLength="30.5" lengthAdjust="spacingAndGlyphs" class="b i" stroke="#111" stroke-width="0.6">MS</text>
<text x="902.9" y="1004.4" font-size="22.5" fill="#2a2210" textLength="68.4" lengthAdjust="spacingAndGlyphs" stroke="#fdc811" stroke-width="0.8">DIGITAL</text>
<rect x="977.8" y="978.7" width="36" height="36.1" rx="6.5" fill="#0b0906"/>
<g stroke="#8f9082" stroke-width="0.6" stroke-opacity="0.9">
<line x1="980.2" y1="982.2" x2="985.2" y2="986.9"/>
<line x1="982.2" y1="980.4" x2="986.5" y2="984.6"/>
<line x1="1011.4" y1="982.2" x2="1006.4" y2="986.9"/>
<line x1="1009.4" y1="980.4" x2="1004.5" y2="985.2"/>
<line x1="980.2" y1="1011.3" x2="985.8" y2="1006.3"/>
<line x1="982.6" y1="1013.2" x2="988.0" y2="1007.8"/>
<line x1="1011.4" y1="1011.3" x2="1005.6" y2="1006.0"/>
<line x1="1009.0" y1="1013.4" x2="1000.5" y2="1005.5"/>
</g>
<text x="982.3" y="1004.0" font-size="20.6" fill="#b3a272" textLength="26.8" lengthAdjust="spacingAndGlyphs" stroke="#0b0906" stroke-width="0.9">IMS</text>
</svg></body></html>
